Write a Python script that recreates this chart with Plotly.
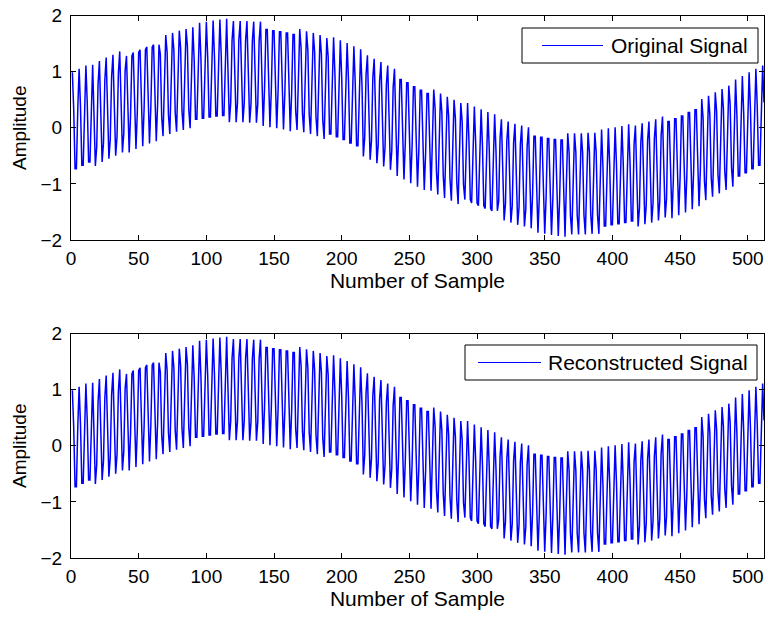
import plotly.graph_objects as go

# Sample numbers (x axis) and signal values
sample_number = list(range(1, 513))

original_signal = [
    0.99, 0.33, -0.73, -0.73, 0.33, 1.05, 0.39, -0.67, -0.67, 0.39,
    1.11, 0.45, -0.61, -0.61, 0.45, 1.12, 0.22, -0.68, -0.34, 0.78,
    1.19, 0.29, -0.61, -0.27, 0.85, 1.25, 0.35, -0.55, -0.21, 0.91,
    1.30, 0.40, -0.50, -0.16, 0.96, 1.36, 0.46, -0.44, -0.10, 1.02,
    1.28, 0.22, -0.44, 0.22, 1.28, 1.34, 0.28, -0.38, 0.28, 1.34,
    1.39, 0.33, -0.33, 0.33, 1.39, 1.44, 0.38, -0.28, 0.38, 1.44,
    1.48, 0.42, -0.24, 0.42, 1.48, 1.31, 0.19, -0.15, 0.75, 1.65,
    1.35, 0.23, -0.11, 0.79, 1.69, 1.39, 0.27, -0.07, 0.83, 1.73,
    1.42, 0.30, -0.04, 0.86, 1.76, 1.45, 0.33, -0.01, 0.89, 1.79,
    1.21, 0.15, 0.15, 1.21, 1.87, 1.23, 0.17, 0.17, 1.23, 1.89,
    1.25, 0.19, 0.19, 1.25, 1.91, 1.27, 0.21, 0.21, 1.27, 1.93,
    1.28, 0.22, 0.22, 1.28, 1.94, 1.00, 0.10, 0.44, 1.56, 1.90,
    1.00, 0.10, 0.44, 1.56, 1.90, 1.00, 0.10, 0.44, 1.56, 1.90,
    0.99, 0.09, 0.43, 1.55, 1.89, 0.99, 0.09, 0.43, 1.55, 1.89,
    0.69, 0.03, 0.69, 1.75, 1.75, 0.67, 0.01, 0.67, 1.73, 1.73,
    0.65, -0.01, 0.65, 1.71, 1.71, 0.63, -0.03, 0.63, 1.69, 1.69,
    0.60, -0.06, 0.60, 1.66, 1.66, 0.30, -0.04, 0.86, 1.76, 1.42,
    0.26, -0.08, 0.82, 1.72, 1.38, 0.23, -0.11, 0.79, 1.69, 1.35,
    0.19, -0.15, 0.75, 1.65, 1.31, 0.14, -0.20, 0.70, 1.60, 1.26,
    -0.11, -0.11, 0.95, 1.61, 0.95, -0.16, -0.16, 0.90, 1.56, 0.90,
    -0.21, -0.21, 0.85, 1.51, 0.85, -0.27, -0.27, 0.79, 1.45, 0.79,
    -0.32, -0.32, 0.74, 1.40, 0.74, -0.51, -0.17, 0.95, 1.29, 0.39,
    -0.57, -0.23, 0.89, 1.23, 0.33, -0.63, -0.29, 0.83, 1.17, 0.27,
    -0.69, -0.35, 0.77, 1.11, 0.21, -0.75, -0.41, 0.71, 1.05, 0.15,
    -0.86, -0.20, 0.86, 0.86, -0.20, -0.92, -0.26, 0.80, 0.80, -0.26,
    -0.99, -0.33, 0.73, 0.73, -0.33, -1.05, -0.39, 0.67, 0.67, -0.39,
    -1.11, -0.45, 0.61, 0.61, -0.45, -1.12, -0.22, 0.68, 0.34, -0.78,
    -1.19, -0.29, 0.61, 0.27, -0.85, -1.25, -0.35, 0.55, 0.21, -0.91,
    -1.30, -0.40, 0.50, 0.16, -0.96, -1.36, -0.46, 0.44, 0.10, -1.02,
    -1.28, -0.22, 0.44, -0.22, -1.28, -1.34, -0.28, 0.38, -0.28, -1.34,
    -1.39, -0.33, 0.33, -0.33, -1.39, -1.44, -0.38, 0.28, -0.38, -1.44,
    -1.48, -0.42, 0.24, -0.42, -1.48, -1.31, -0.19, 0.15, -0.75, -1.65,
    -1.35, -0.23, 0.11, -0.79, -1.69, -1.39, -0.27, 0.07, -0.83, -1.73,
    -1.42, -0.30, 0.04, -0.86, -1.76, -1.45, -0.33, 0.01, -0.89, -1.79,
    -1.21, -0.15, -0.15, -1.21, -1.87, -1.23, -0.17, -0.17, -1.23, -1.89,
    -1.25, -0.19, -0.19, -1.25, -1.91, -1.27, -0.21, -0.21, -1.27, -1.93,
    -1.28, -0.22, -0.22, -1.28, -1.94, -1.00, -0.10, -0.44, -1.56, -1.90,
    -1.00, -0.10, -0.44, -1.56, -1.90, -1.00, -0.10, -0.44, -1.56, -1.90,
    -0.99, -0.09, -0.43, -1.55, -1.89, -0.99, -0.09, -0.43, -1.55, -1.89,
    -0.69, -0.03, -0.69, -1.75, -1.75, -0.67, -0.01, -0.67, -1.73, -1.73,
    -0.65, 0.01, -0.65, -1.71, -1.71, -0.63, 0.03, -0.63, -1.69, -1.69,
    -0.60, 0.06, -0.60, -1.66, -1.66, -0.30, 0.04, -0.86, -1.76, -1.42,
    -0.26, 0.08, -0.82, -1.72, -1.38, -0.23, 0.11, -0.79, -1.69, -1.35,
    -0.19, 0.15, -0.75, -1.65, -1.31, -0.14, 0.20, -0.70, -1.60, -1.26,
    0.11, 0.11, -0.95, -1.61, -0.95, 0.16, 0.16, -0.90, -1.56, -0.90,
    0.21, 0.21, -0.85, -1.51, -0.85, 0.27, 0.27, -0.79, -1.45, -0.79,
    0.32, 0.32, -0.74, -1.40, -0.74, 0.51, 0.17, -0.95, -1.29, -0.39,
    0.57, 0.23, -0.89, -1.23, -0.33, 0.63, 0.29, -0.83, -1.17, -0.27,
    0.69, 0.35, -0.77, -1.11, -0.21, 0.75, 0.41, -0.71, -1.05, -0.15,
    0.86, 0.20, -0.86, -0.86, 0.20, 0.92, 0.26, -0.80, -0.80, 0.26,
    0.99, 0.33, -0.73, -0.73, 0.33, 1.05, 0.39, -0.67, -0.67, 0.39,
    1.11, 0.45,
]

# The reconstructed signal is visually identical to the original
reconstructed_signal = list(original_signal)

x_ticks = [0, 50, 100, 150, 200, 250, 300, 350, 400, 450, 500]
y_ticks = [-2, -1, 0, 1, 2]
series_names = ["Original Signal", "Reconstructed Signal"]

# ---------------- layout geometry (pixels) ----------------
W, H = 768, 621
ML, MR = 71, 4
PW = W - ML - MR
FONT = "Liberation Sans, Arial, sans-serif"
FS_TICK = 19
FS_XT = 21
FS_YT = 19
FS_LEG = 21
BLUE = "#0000ff"


def px_x(p):
    return (p - ML) / PW


def px_y(p):
    return (H - p) / H


fig = go.Figure()
fig.add_trace(go.Scatter(x=sample_number, y=original_signal, mode="lines",
                         name=series_names[0], line=dict(color=BLUE, width=1.5),
                         xaxis="x", yaxis="y", showlegend=False))
fig.add_trace(go.Scatter(x=sample_number, y=reconstructed_signal, mode="lines",
                         name=series_names[1], line=dict(color=BLUE, width=1.5),
                         xaxis="x2", yaxis="y2", showlegend=False))

axis_common = dict(
    showline=True, linecolor="black", linewidth=1, mirror="allticks",
    ticks="inside", ticklen=5, tickcolor="black", showgrid=False,
    zeroline=False, automargin=False,
    tickfont=dict(family=FONT, size=FS_TICK, color="black"),
)

xa = dict(axis_common, range=[0, 512], tickvals=x_ticks, ticklabelstandoff=1,
          title=dict(text="Number of Sample", font=dict(family=FONT, size=FS_XT, color="black"), standoff=0))
ya = dict(axis_common, range=[-2, 2], tickvals=y_ticks, ticklabelstandoff=4,
          title=dict(text="Amplitude", font=dict(family=FONT, size=FS_YT, color="black"), standoff=8))

top_dom = [px_y(240), px_y(15.5)]
bot_dom = [px_y(558), px_y(333.5)]

fig.update_layout(
    width=W, height=H,
    margin=dict(l=ML, r=MR, t=0, b=0, autoexpand=False),
    paper_bgcolor="white", plot_bgcolor="white",
    font=dict(family=FONT, size=FS_TICK, color="black"),
    xaxis=dict(xa, domain=[0, 1], anchor="y"),
    yaxis=dict(ya, domain=top_dom, anchor="x"),
    xaxis2=dict(xa, domain=[0, 1], anchor="y2"),
    yaxis2=dict(ya, domain=bot_dom, anchor="x2"),
    showlegend=False,
)

# Legend boxes drawn MATLAB-style (box, line sample, label)
legends = [
    dict(name=series_names[0], box=(522, 28, 758, 63), line=(542, 603), text_x=609),
    dict(name=series_names[1], box=(465, 345, 757, 380), line=(478, 541), text_x=546),
]
shapes = []
annotations = []
for lg in legends:
    x0, y0, x1, y1 = lg["box"]
    ym = (y0 + y1) / 2
    shapes.append(dict(type="rect", xref="paper", yref="paper",
                       x0=px_x(x0), x1=px_x(x1), y0=px_y(y1), y1=px_y(y0),
                       line=dict(color="black", width=1), fillcolor="white", layer="above"))
    shapes.append(dict(type="line", xref="paper", yref="paper",
                       x0=px_x(lg["line"][0]), x1=px_x(lg["line"][1]),
                       y0=px_y(ym), y1=px_y(ym),
                       line=dict(color=BLUE, width=1), layer="above"))
    annotations.append(dict(text=lg["name"], xref="paper", yref="paper",
                            x=px_x(lg["text_x"]), y=px_y(ym), xanchor="left", yanchor="middle",
                            showarrow=False, font=dict(family=FONT, size=FS_LEG, color="black")))

fig.update_layout(shapes=shapes, annotations=annotations)

fig.write_html("out.html")
